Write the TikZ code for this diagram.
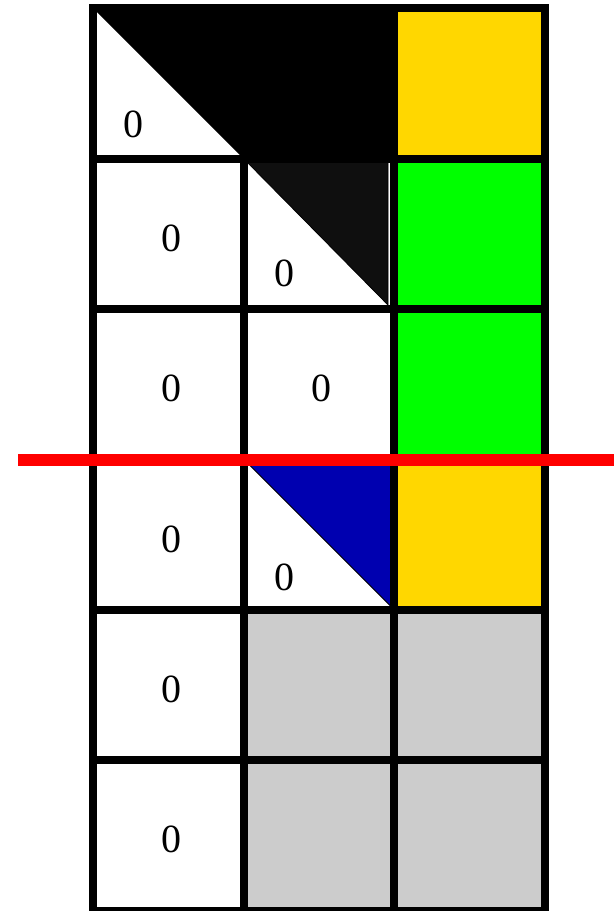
\documentclass[tikz,border=0pt]{standalone}
\usepackage{fontspec}
\setmainfont{Liberation Serif}
\definecolor{cyellow}{RGB}{255,215,0}
\definecolor{cgreen}{RGB}{0,255,0}
\definecolor{cblue}{RGB}{0,0,176}
\definecolor{cdark}{RGB}{15,15,15}
\definecolor{cgray}{RGB}{204,204,204}
\definecolor{cred}{RGB}{255,0,0}
\begin{document}
\begin{tikzpicture}[x=1pt,y=-1pt,
  gridline/.style={draw=black,line width=8pt},
  zero/.style={font=\fontsize{40}{40}\selectfont,inner sep=0pt},
  tri/.style={draw=black,line width=0.8pt}]
\useasboundingbox (0,0) rectangle (614,911);
\fill[white] (0,0) rectangle (614,911);
% coloured cells
\fill[cyellow] (394,8) rectangle (544.5,158.5);
\fill[cgreen] (394,158.5) rectangle (544.5,459);
\fill[cyellow] (394,459) rectangle (544.5,609.5);
\fill[cgray] (243.5,609.5) rectangle (544.5,911);
% black region of the top row
\fill[black] (93,8) -- (394,8) -- (394,158.5) -- (243.5,158.5) -- cycle;
% dark triangle in row 1
\filldraw[tri,fill=cdark] (243.5,158.5) -- (388,158.5) -- (388,305) -- cycle;
% blue triangle in row 3
\filldraw[tri,fill=cblue] (243.5,459) -- (394,459) -- (394,609.5) -- cycle;
% grid
\foreach \x in {93,243.5,394,544.5}
  \draw[gridline] (\x,4) -- (\x,915);
\foreach \y in {8,158.5,309,459.5,609.5,760,910.5}
  \draw[gridline] (89,\y) -- (548.5,\y);
% zeros
\node[zero] (z00) at (133,124) {0};
\node[zero] (z10) at (171,238) {0};
\node[zero] (z11) at (284,273) {0};
\node[zero] (z20) at (171,388) {0};
\node[zero] (z21) at (321,388) {0};
\node[zero] (z30) at (171,539) {0};
\node[zero] (z31) at (284,577) {0};
\node[zero] (z40) at (171,689) {0};
\node[zero] (z50) at (171,839) {0};
% red line
\coordinate (rl) at (18,460);
\coordinate (rr) at (614,460);
\draw[cred,line width=12pt] (rl) -- (rr);
\end{tikzpicture}
\end{document}
